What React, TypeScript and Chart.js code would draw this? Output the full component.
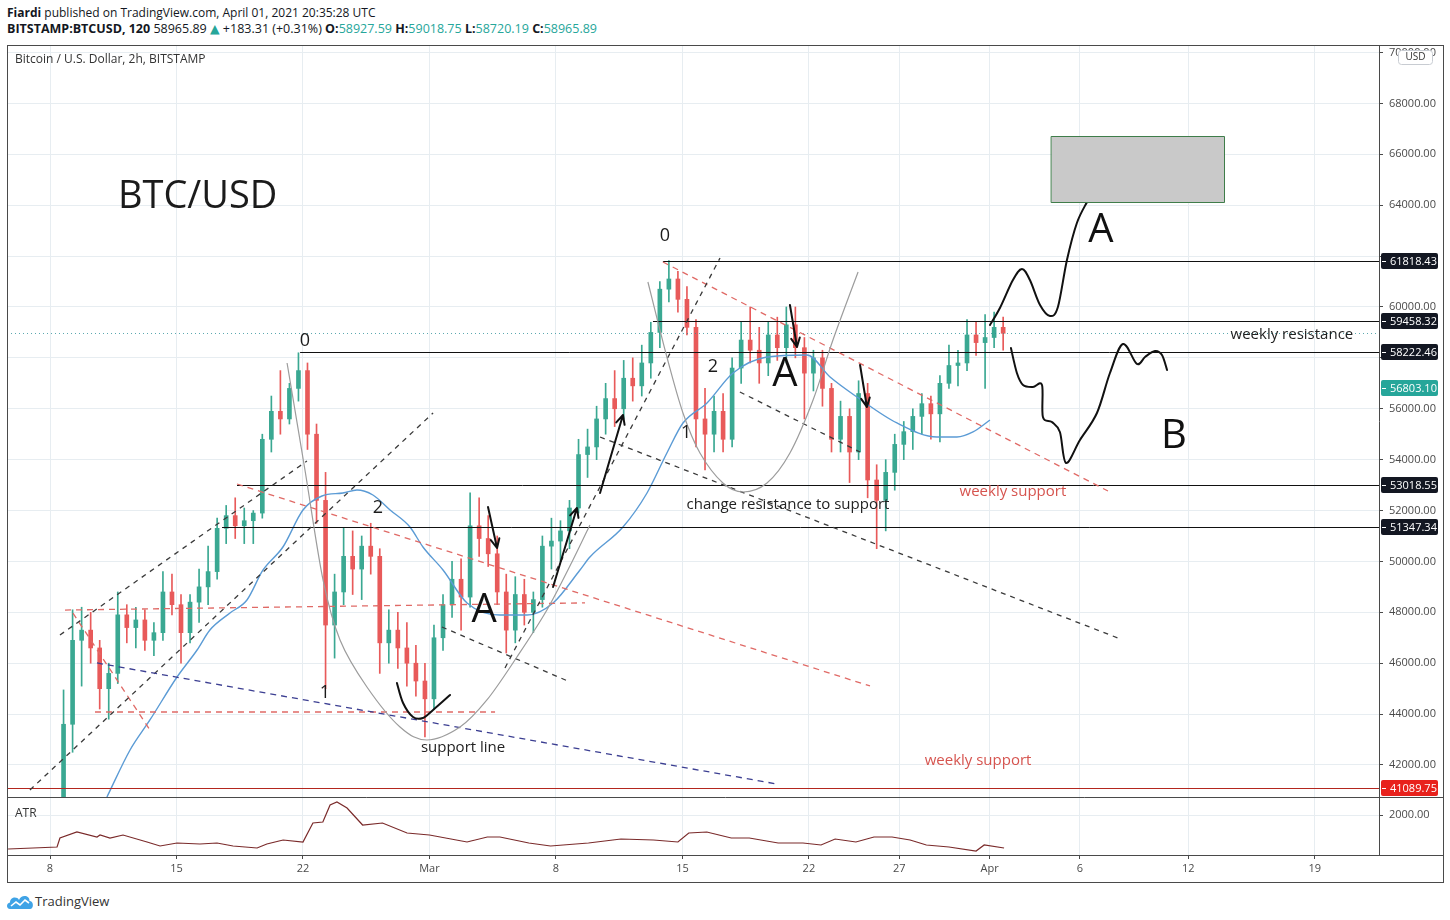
import React, { useEffect, useRef } from 'react';
import { Chart, registerables } from 'chart.js';

Chart.register(...registerables);

const FONT = '"Open Sans", "Noto Sans", "DejaVu Sans", sans-serif';

// Time axis unit: day number (Feb n = n, Mar n = 28 + n, Apr n = 59 + n)
const X_MIN = 5.62;
const X_MAX = 81.55;
const Y_MIN = 40742;
const Y_MAX = 70296;
const ATR_MIN = 472;
const ATR_MAX = 2688;

const timeTickValues = [8, 15, 22, 29, 36, 43, 50, 55, 60, 65, 71, 78];
const timeTickLabels = ['8', '15', '22', 'Mar', '8', '15', '22', '27', 'Apr', '6', '12', '19'];
const priceTicks = [42000, 44000, 46000, 48000, 50000, 52000, 54000, 56000, 58000, 60000, 62000, 64000, 66000, 68000, 70000];
const hiddenPriceLabels = [62000, 58000];
const atrTicks = [2000];

// 12h candles starting Feb 5 12:00
const CANDLE_START = 5.5;
const CANDLE_STEP = 0.5;
const ohlc: [number, number, number, number][] = [
  [38900, 39500, 38200, 39200], [39200, 40000, 38800, 39300], [39300, 39700, 38500, 38800], [38800, 39200, 37800, 38600],
  [38600, 39100, 38000, 38900], [38900, 39500, 38300, 39200], [39200, 44950, 38900, 43600], [43600, 48100, 42500, 46900],
  [46900, 48200, 45100, 47300], [47300, 48000, 46000, 46600], [46600, 46900, 44200, 45000], [45000, 46000, 43800, 45600],
  [45600, 48800, 45200, 47900], [47900, 48300, 46800, 47400], [47400, 48200, 46600, 47700], [47700, 48100, 46500, 46900],
  [46900, 47600, 46300, 47200], [47200, 49600, 46900, 48800], [48800, 49500, 47900, 48300], [48300, 48700, 46000, 47200],
  [47200, 48700, 46800, 48400], [48400, 49700, 47600, 49000], [49000, 50600, 48300, 49600], [49600, 51700, 49300, 51300],
  [51300, 52200, 50700, 51800], [51800, 52500, 50900, 51400], [51400, 52100, 50700, 51600], [51600, 52000, 50700, 51900],
  [51900, 55000, 51700, 54800], [54800, 56500, 54300, 55900], [55900, 57500, 55000, 55600], [55600, 57000, 55400, 56800],
  [56800, 58200, 56300, 57500], [57500, 57800, 54400, 55000], [55000, 55400, 51500, 52400], [52400, 53500, 45000, 47500],
  [47500, 49500, 46200, 48800], [48800, 51300, 48300, 50200], [50200, 51200, 48700, 49700], [49700, 51000, 48500, 50600],
  [50600, 51500, 49500, 50200], [50200, 50500, 45600, 46800], [46800, 48100, 46000, 47300], [47300, 48000, 45800, 46600],
  [46600, 47600, 45100, 46000], [46000, 46700, 44700, 45300], [45300, 46000, 43100, 44600], [44600, 47500, 44200, 47000],
  [47000, 48700, 46500, 48300], [48300, 50000, 47800, 49300], [49300, 50100, 47300, 48600], [48600, 52700, 48200, 51400],
  [51400, 52500, 50200, 50900], [50900, 51800, 49800, 50300], [50300, 51000, 48300, 48800], [48800, 49500, 46400, 47300],
  [47300, 49400, 46800, 48700], [48700, 49300, 47500, 48000], [48000, 48800, 47200, 48500], [48500, 51000, 48200, 50600],
  [50600, 51700, 49700, 50800], [50800, 51600, 50000, 51200], [51200, 52400, 50500, 52100], [52100, 54800, 51900, 54200],
  [54200, 55200, 53300, 54500], [54500, 56100, 54000, 55600], [55600, 57000, 55000, 56400], [56400, 57500, 55300, 56000],
  [56000, 57900, 55600, 57200], [57200, 58000, 56300, 56900], [56900, 58500, 56500, 57800], [57800, 59400, 57200, 59000],
  [59000, 61000, 58400, 60700], [60700, 61820, 60200, 61100], [61100, 61400, 59800, 60300], [60300, 60800, 58900, 59200],
  [59200, 59500, 54500, 55600], [55600, 56800, 53600, 55000], [55000, 56500, 54300, 55900], [55900, 56600, 54300, 54800],
  [54800, 58000, 54500, 57600], [57600, 59400, 57000, 58700], [58700, 60000, 57800, 58300], [58300, 59200, 57000, 57800],
  [57800, 59400, 57300, 58900], [58900, 59600, 57900, 58400], [58400, 60000, 57800, 59300], [59300, 60000, 58000, 58400],
  [58400, 58800, 55600, 57400], [57400, 58300, 56700, 58000], [58000, 58300, 56100, 56800], [56800, 57000, 54300, 54800],
  [54800, 56300, 54300, 55700], [55700, 56000, 53100, 54300], [54300, 57100, 54000, 56600], [56600, 57000, 52500, 53200],
  [53200, 53800, 50500, 52400], [52400, 54000, 51200, 53500], [53500, 55000, 52800, 54600], [54600, 55500, 54000, 55100],
  [55100, 56000, 54400, 55700], [55700, 56600, 55000, 56200], [56200, 56500, 54800, 55800], [55800, 57300, 54700, 57000],
  [57000, 58500, 56800, 57700], [57700, 58300, 56900, 57800], [57800, 59500, 57500, 58900], [58900, 59400, 58100, 58600],
  [58600, 59700, 56800, 58800], [58800, 59800, 58400, 59200], [59200, 59600, 58300, 58966],
];

// moving average (blue): [day, price]
const maPoints: [number, number][] = [
  [11.15, 40742], [12.43, 42590], [13.53, 43769], [15.03, 45458], [16.14, 46520], [16.85, 47306], [17.96, 47974],
  [18.9, 48485], [19.79, 49664], [20.89, 50567], [22.0, 52022], [23.05, 52572], [24.21, 52690], [24.99, 52808],
  [25.87, 52611], [26.82, 52022], [27.92, 51353], [28.64, 50567], [29.75, 49664], [31.08, 48367], [32.9, 47895],
  [34.4, 47895], [35.84, 48367], [37.33, 49664], [37.88, 50174], [39.71, 51353], [41.04, 52690], [42.14, 54262],
  [43.03, 55441], [44.36, 56227], [45.8, 57406], [47.68, 58034], [49.89, 58113], [51.17, 57248], [52.66, 56462],
  [54.87, 55441], [57.09, 54890], [58.19, 54890], [59.08, 55087], [60.02, 55559],
];

// ATR pane: [day, value]
const atrPoints: [number, number][] = [
  [5.68, 701], [7.06, 739], [8.39, 778], [8.55, 1121], [9.49, 1351], [10.6, 1160], [10.77, 1236], [11.32, 1121],
  [12.04, 1236], [13.37, 969], [14.09, 816], [15.03, 930], [16.3, 892], [17.24, 930], [18.13, 816], [19.46, 739],
  [20.0, 892], [20.9, 1045], [22.0, 969], [22.55, 1694], [23.1, 1733], [23.5, 2382], [23.88, 2497], [24.44, 2267],
  [25.3, 1618], [26.4, 1694], [27.76, 1312], [29.0, 1236], [31.08, 969], [32.2, 1160], [32.9, 1160], [34.5, 930],
  [35.7, 816], [37.8, 930], [39.6, 1083], [41.4, 1045], [42.75, 969], [43.35, 1312], [44.35, 1351], [45.7, 1121],
  [46.7, 1121], [48.3, 930], [49.67, 930], [50.67, 854], [51.45, 1083], [52.6, 969], [53.6, 1160], [54.6, 1160],
  [55.6, 1045], [56.5, 854], [57.75, 778], [59.25, 625], [59.7, 854], [60.8, 739],
];

const LAST_PRICE = 58965.89;
const levelLines = [
  { price: 61818.43, from: 41.92 },
  { price: 59458.32, from: 41.37 },
  { price: 58222.46, from: 21.84 },
  { price: 53018.55, from: 18.35 },
  { price: 51347.34, from: 17.52 },
];
const SUPPORT_PRICE = 41089.75;
const priceTags = [
  { price: 61818.43, bg: '#131722' },
  { price: 59458.32, bg: '#131722' },
  { price: 58222.46, bg: '#131722' },
  { price: 56803.1, bg: '#26a69a' },
  { price: 53018.55, bg: '#131722' },
  { price: 51347.34, bg: '#131722' },
  { price: 41089.75, bg: '#e8211c' },
];

type Seg = [number, number, number, number];
const redDashed: Seg[] = [
  [8.83, 48090, 37.61, 48370],
  [10.49, 44083, 32.63, 44083],
  [9.27, 47970, 13.53, 43376],
  [18.35, 53043, 53.38, 45105],
  [41.92, 61768, 66.55, 52768],
];
const blackDashed: Seg[] = [
  [6.89, 41018, 29.2, 55834],
  [8.55, 47109, 22.22, 53947],
  [29.69, 47423, 36.78, 45262],
  [33.18, 45812, 45.08, 61925],
  [38.44, 54890, 67.1, 46991],
  [46.18, 56659, 52.83, 54300],
];
const blueDashed: Seg[] = [[10.6, 46009, 48.23, 41253]];
const arrows: Seg[] = [
  [32.24, 52139, 32.74, 50528],
  [35.84, 48995, 37.16, 52100],
  [38.44, 52690, 39.71, 55755],
  [48.95, 60078, 49.34, 58427],
  [52.83, 57720, 53.21, 56069],
];
const cupLeft: [number, number][] = [
  [21.12, 57799], [22.11, 53594], [23.11, 49271], [24.05, 46913], [25.54, 45065], [27.37, 43493], [28.86, 42983],
  [30.69, 43493], [32.18, 44555], [33.84, 46244], [35.5, 48092], [36.94, 50057], [37.88, 51432],
];
const cupRight: [number, number][] = [
  [41.09, 60982], [42.14, 58034], [43.03, 55834], [43.97, 54262], [45.24, 53083], [46.35, 52729], [47.68, 53083],
  [48.95, 54262], [50.23, 56345], [51.33, 58703], [52.72, 61375],
];
const smile: [number, number][] = [
  [27.2, 45223], [27.54, 44437], [28.09, 43886], [28.64, 43847], [29.2, 44162], [30.14, 44751],
];
const pathA: [number, number][] = [
  [60.02, 59292], [60.57, 59960], [61.29, 61061], [61.79, 61493], [62.23, 61061], [62.79, 60078], [63.34, 59646],
  [63.78, 59999], [64.28, 61847], [64.83, 63301], [65.39, 64126],
];
const pathB: [number, number][] = [
  [61.18, 58388], [61.51, 57406], [61.85, 56934], [62.4, 56855], [62.9, 56934], [62.95, 55676], [63.45, 55480],
  [63.89, 55087], [64.23, 53869], [65.0, 54773], [65.94, 55834], [66.66, 57406], [67.38, 58546], [68.15, 57760],
  [68.6, 58034], [69.15, 58270], [69.54, 58113], [69.82, 57524],
];
const targetBox: Seg = [63.4, 64130, 72.97, 66720];

const notes = [
  { text: 'BTC/USD', d: 11.76, p: 64322, size: 38, color: '#1b1b1b', align: 'left' },
  { text: '0', d: 22.11, p: 58663, size: 18, color: '#1b1b1b', align: 'center' },
  { text: '0', d: 42.03, p: 62790, size: 18, color: '#1b1b1b', align: 'center' },
  { text: '1', d: 23.22, p: 44830, size: 18, color: '#1b1b1b', align: 'center' },
  { text: '2', d: 26.15, p: 52100, size: 18, color: '#1b1b1b', align: 'center' },
  { text: '1', d: 43.2, p: 55048, size: 18, color: '#1b1b1b', align: 'center' },
  { text: '2', d: 44.69, p: 57641, size: 18, color: '#1b1b1b', align: 'center' },
  { text: 'A', d: 32.02, p: 48052, size: 40, color: '#111111', align: 'center' },
  { text: 'A', d: 48.67, p: 57327, size: 40, color: '#111111', align: 'center' },
  { text: 'A', d: 66.16, p: 62986, size: 40, color: '#111111', align: 'center' },
  { text: 'B', d: 70.2, p: 54890, size: 40, color: '#111111', align: 'center' },
  { text: 'support line', d: 30.86, p: 42668, size: 15, color: '#222222', align: 'center' },
  { text: 'change resistance to support', d: 48.84, p: 52218, size: 15, color: '#222222', align: 'center' },
  { text: 'weekly resistance', d: 76.73, p: 58899, size: 15, color: '#222222', align: 'center' },
  { text: 'weekly support', d: 61.29, p: 52729, size: 15, color: '#d6544f', align: 'center' },
  { text: 'weekly support', d: 59.36, p: 42157, size: 15, color: '#d6544f', align: 'center' },
];

const UP = '#3aa892';
const DOWN = '#e85a5a';
const GRID = '#e7edf1';
const AXIS = '#4a4a4a';

function smoothPath(ctx: CanvasRenderingContext2D, pts: [number, number][]) {
  ctx.moveTo(pts[0][0], pts[0][1]);
  for (let i = 0; i < pts.length - 1; i++) {
    const p0 = pts[i - 1] || pts[i];
    const p1 = pts[i];
    const p2 = pts[i + 1];
    const p3 = pts[i + 2] || p2;
    ctx.bezierCurveTo(
      p1[0] + (p2[0] - p0[0]) / 6, p1[1] + (p2[1] - p0[1]) / 6,
      p2[0] - (p3[0] - p1[0]) / 6, p2[1] - (p3[1] - p1[1]) / 6,
      p2[0], p2[1]
    );
  }
}

const paneClip = {
  id: 'paneClip',
  beforeDatasetDraw(chart: any, args: any) {
    const ds = chart.data.datasets[args.index];
    const xs = chart.scales.x;
    const ys = chart.scales[ds.yAxisID || 'y'];
    const ctx = chart.ctx;
    ctx.save();
    ctx.beginPath();
    ctx.rect(xs.left, ys.top, xs.right - xs.left, ys.bottom - ys.top);
    ctx.clip();
  },
  afterDatasetDraw(chart: any) {
    chart.ctx.restore();
  },
};

const drawings = {
  id: 'drawings',
  afterDatasetsDraw(chart: any) {
    const ctx: CanvasRenderingContext2D = chart.ctx;
    const xs = chart.scales.x;
    const ys = chart.scales.y;
    const X = (d: number) => xs.getPixelForValue(d);
    const Y = (p: number) => ys.getPixelForValue(p);
    const H = (p: number) => Math.round(Y(p)) + 0.5;
    ctx.save();
    ctx.beginPath();
    ctx.rect(xs.left, ys.top, xs.right - xs.left, ys.bottom - ys.top);
    ctx.clip();

    // last price dotted line
    ctx.strokeStyle = 'rgba(38,140,150,0.75)';
    ctx.lineWidth = 1;
    ctx.setLineDash([1, 3]);
    ctx.beginPath();
    ctx.moveTo(xs.left, H(LAST_PRICE));
    ctx.lineTo(xs.right, H(LAST_PRICE));
    ctx.stroke();

    // support line (red solid)
    ctx.setLineDash([]);
    ctx.strokeStyle = '#b3261e';
    ctx.beginPath();
    ctx.moveTo(xs.left, H(SUPPORT_PRICE));
    ctx.lineTo(xs.right, H(SUPPORT_PRICE));
    ctx.stroke();

    // level lines
    ctx.strokeStyle = '#111111';
    for (const l of levelLines) {
      ctx.beginPath();
      ctx.moveTo(X(l.from), H(l.price));
      ctx.lineTo(xs.right, H(l.price));
      ctx.stroke();
    }

    const seg = (s: Seg) => {
      ctx.beginPath();
      ctx.moveTo(X(s[0]), Y(s[1]));
      ctx.lineTo(X(s[2]), Y(s[3]));
      ctx.stroke();
    };
    ctx.lineWidth = 1.3;
    ctx.setLineDash([6, 5]);
    ctx.strokeStyle = '#e06a66';
    redDashed.forEach(seg);
    ctx.strokeStyle = '#3a3a3a';
    ctx.setLineDash([5, 5]);
    blackDashed.forEach(seg);
    ctx.strokeStyle = '#3c3f92';
    ctx.setLineDash([6, 5]);
    blueDashed.forEach(seg);
    ctx.setLineDash([]);

    // gray curves
    const toPx = (pts: [number, number][]) => pts.map((q) => [X(q[0]), Y(q[1])] as [number, number]);
    ctx.strokeStyle = '#9c9c9c';
    ctx.lineWidth = 1.2;
    for (const c of [cupLeft, cupRight]) {
      ctx.beginPath();
      smoothPath(ctx, toPx(c));
      ctx.stroke();
    }

    // hand drawn black paths
    ctx.strokeStyle = '#111111';
    ctx.lineWidth = 2;
    ctx.lineCap = 'round';
    ctx.lineJoin = 'round';
    for (const c of [smile, pathA, pathB]) {
      ctx.beginPath();
      smoothPath(ctx, toPx(c));
      ctx.stroke();
    }

    // arrows
    for (const a of arrows) {
      const x1 = X(a[0]), y1 = Y(a[1]), x2 = X(a[2]), y2 = Y(a[3]);
      ctx.beginPath();
      ctx.moveTo(x1, y1);
      ctx.lineTo(x2, y2);
      const ang = Math.atan2(y2 - y1, x2 - x1);
      const hl = 10;
      ctx.moveTo(x2 - hl * Math.cos(ang - 0.45), y2 - hl * Math.sin(ang - 0.45));
      ctx.lineTo(x2, y2);
      ctx.lineTo(x2 - hl * Math.cos(ang + 0.45), y2 - hl * Math.sin(ang + 0.45));
      ctx.stroke();
    }

    // target box
    const bx1 = Math.round(X(targetBox[0])) + 0.5, by1 = Math.round(Y(targetBox[3])) + 0.5;
    const bx2 = Math.round(X(targetBox[2])) + 0.5, by2 = Math.round(Y(targetBox[1])) + 0.5;
    ctx.fillStyle = '#c9c9c9';
    ctx.fillRect(bx1, by1, bx2 - bx1, by2 - by1);
    ctx.strokeStyle = '#3f7d4a';
    ctx.lineWidth = 1;
    ctx.strokeRect(bx1, by1, bx2 - bx1, by2 - by1);

    // text notes
    ctx.textBaseline = 'middle';
    for (const n of notes) {
      ctx.font = `${n.size}px ${FONT}`;
      ctx.fillStyle = n.color;
      ctx.textAlign = n.align as CanvasTextAlign;
      ctx.fillText(n.text, X(n.d), Y(n.p));
    }
    ctx.restore();
  },
  afterDraw(chart: any) {
    const ctx: CanvasRenderingContext2D = chart.ctx;
    const xs = chart.scales.x;
    const ys = chart.scales.y;
    const ya = chart.scales.yA;
    const W = chart.width;
    const Hh = chart.height;
    ctx.save();
    // pane separators
    ctx.strokeStyle = AXIS;
    ctx.lineWidth = 1;
    ctx.beginPath();
    ctx.moveTo(0, Math.round(ys.bottom) + 0.5);
    ctx.lineTo(W, Math.round(ys.bottom) + 0.5);
    ctx.moveTo(0, Math.round(ya.bottom) + 0.5);
    ctx.lineTo(W, Math.round(ya.bottom) + 0.5);
    ctx.stroke();
    // outer frame
    ctx.strokeRect(0.5, 0.5, W - 1, Hh - 1);

    // pane titles
    ctx.fillStyle = '#333333';
    ctx.font = `12px ${FONT}`;
    ctx.textAlign = 'left';
    ctx.textBaseline = 'middle';
    ctx.fillText('Bitcoin / U.S. Dollar, 2h, BITSTAMP', xs.left + 8, ys.top + 15);
    ctx.fillText('ATR', xs.left + 8, ya.top + 17);

    // price tags
    ctx.font = `11px ${FONT}`;
    for (const t of priceTags) {
      const y = Math.round(ys.getPixelForValue(t.price));
      const left = ys.left + 2;
      ctx.fillStyle = t.bg;
      ctx.beginPath();
      ctx.roundRect(left, y - 8, 57, 16, 2);
      ctx.fill();
      ctx.fillStyle = '#ffffff';
      ctx.fillRect(left + 1, y, 4, 1);
      ctx.fillText(t.price.toFixed(2), left + 9, y + 0.5);
    }
    // USD badge
    ctx.fillStyle = '#ffffff';
    ctx.strokeStyle = '#c8ccd2';
    ctx.beginPath();
    ctx.roundRect(ys.left + 19.5, 5.5, 34, 14, 3);
    ctx.fill();
    ctx.stroke();
    ctx.fillStyle = '#333333';
    ctx.font = `10px ${FONT}`;
    ctx.textAlign = 'center';
    ctx.fillText('USD', ys.left + 36.5, 12.5);
    ctx.restore();
  },
};

export default function App() {
  const ref = useRef<HTMLCanvasElement | null>(null);

  useEffect(() => {
    const canvas = ref.current;
    if (!canvas) return;
    const centers = ohlc.map((_, i) => CANDLE_START + i * CANDLE_STEP + CANDLE_STEP / 2);
    const isUp = (i: number) => ohlc[i][3] >= ohlc[i][0];
    const tickFont = { family: FONT, size: 11 };
    const noPad = (s: any) => {
      s.paddingTop = 0;
      s.paddingBottom = 0;
      s.paddingLeft = 0;
      s.paddingRight = 0;
    };

    const chart = new Chart(canvas, {
      type: 'bar',
      data: {
        datasets: [
          {
            type: 'bar',
            label: 'wick',
            yAxisID: 'y',
            data: ohlc.map((c, i) => ({ x: centers[i], y: [c[2], c[1]] })),
            backgroundColor: (c: any) => (isUp(c.dataIndex) ? UP : DOWN),
            barThickness: 1,
            grouped: false,
            order: 3,
          } as any,
          {
            type: 'bar',
            label: 'body',
            yAxisID: 'y',
            data: ohlc.map((c, i) => ({ x: centers[i], y: [Math.min(c[0], c[3]), Math.max(c[0], c[3])] })),
            backgroundColor: (c: any) => (isUp(c.dataIndex) ? UP : DOWN),
            barThickness: 4,
            minBarLength: 1,
            grouped: false,
            order: 2,
          } as any,
          {
            type: 'line',
            label: 'MA',
            yAxisID: 'y',
            data: maPoints.map((p) => ({ x: p[0], y: p[1] })),
            borderColor: '#5b9bd5',
            borderWidth: 1.4,
            pointRadius: 0,
            cubicInterpolationMode: 'monotone',
            order: 1,
          } as any,
          {
            type: 'line',
            label: 'ATR',
            yAxisID: 'yA',
            data: atrPoints.map((p) => ({ x: p[0], y: p[1] })),
            borderColor: '#7a2a2a',
            borderWidth: 1.2,
            pointRadius: 0,
            order: 1,
          } as any,
        ],
      },
      options: {
        animation: false,
        responsive: false,
        maintainAspectRatio: false,
        devicePixelRatio: 1,
        layout: { padding: 0 },
        plugins: { legend: { display: false }, tooltip: { enabled: false } },
        scales: {
          x: {
            type: 'linear',
            min: X_MIN,
            max: X_MAX,
            offset: false,
            grid: { color: GRID, offset: false, tickLength: 4, tickColor: AXIS },
            border: { display: true, color: AXIS },
            ticks: {
              autoSkip: false,
              maxRotation: 0,
              padding: 3,
              font: tickFont,
              color: '#4a4a4a',
              callback: (_v: any, i: number) => timeTickLabels[i],
            },
            afterBuildTicks: (s: any) => {
              s.ticks = timeTickValues.map((v) => ({ value: v }));
            },
            afterFit: (s: any) => {
              s.height = 28;
              noPad(s);
            },
          },
          y: {
            type: 'linear',
            position: 'right',
            stack: 'panes',
            stackWeight: 752,
            min: Y_MIN,
            max: Y_MAX,
            grid: { color: GRID, tickLength: 4, tickColor: AXIS },
            border: { display: true, color: AXIS },
            ticks: {
              padding: 6,
              font: tickFont,
              color: '#4a4a4a',
              callback: (v: any) => (hiddenPriceLabels.includes(v) ? '' : Number(v).toFixed(2)),
            },
            afterBuildTicks: (s: any) => {
              s.ticks = priceTicks.map((v) => ({ value: v }));
            },
            afterFit: (s: any) => {
              s.width = 65;
              noPad(s);
            },
          },
          yA: {
            type: 'linear',
            position: 'right',
            stack: 'panes',
            stackWeight: 58,
            min: ATR_MIN,
            max: ATR_MAX,
            grid: { color: GRID, tickLength: 4, tickColor: AXIS },
            border: { display: true, color: AXIS },
            ticks: {
              padding: 6,
              font: tickFont,
              color: '#4a4a4a',
              callback: (v: any) => Number(v).toFixed(2),
            },
            afterBuildTicks: (s: any) => {
              s.ticks = atrTicks.map((v) => ({ value: v }));
            },
            afterFit: (s: any) => {
              s.width = 65;
              noPad(s);
            },
          },
        },
      } as any,
      plugins: [paneClip, drawings],
    });
    return () => chart.destroy();
  }, []);

  const teal = { color: '#26a69a' };
  return (
    <div style={{ position: 'absolute', left: 0, top: 0, width: 1450, height: 920, background: '#ffffff', fontFamily: FONT, color: '#131722' }}>
      <div style={{ position: 'absolute', left: 7, top: 4, fontSize: 12, whiteSpace: 'nowrap' }}>
        <b>Fiardi</b> published on TradingView.com, April 01, 2021 20:35:28 UTC
      </div>
      <div style={{ position: 'absolute', left: 7, top: 20, fontSize: 12.5, whiteSpace: 'nowrap' }}>
        <b>BITSTAMP:BTCUSD, 120</b> 58965.89 <span style={teal}>▲</span> +183.31 (+0.31%) <b>O:</b>
        <span style={teal}>58927.59</span> <b>H:</b><span style={teal}>59018.75</span> <b>L:</b>
        <span style={teal}>58720.19</span> <b>C:</b><span style={teal}>58965.89</span>
      </div>
      <canvas ref={ref} width={1437} height={838} style={{ position: 'absolute', left: 7, top: 45, width: 1437, height: 838 }} />
      <div style={{ position: 'absolute', left: 6, top: 892, display: 'flex', alignItems: 'center' }}>
        <svg width="28" height="17" viewBox="0 0 28 17">
          <path d="M4 16 C0 16 0 10 4 9.5 C4 4 11 3 13 7 C15 1 24 2 23.5 8 C28 8 28 16 24 16 Z" fill="#3fa3e6" />
          <path d="M5 13 L10 9 L14 12 L19 7 L23 10" stroke="#ffffff" strokeWidth="1.6" fill="none" />
        </svg>
        <span style={{ fontSize: 13, color: '#333', marginLeft: 1 }}>TradingView</span>
      </div>
    </div>
  );
}
